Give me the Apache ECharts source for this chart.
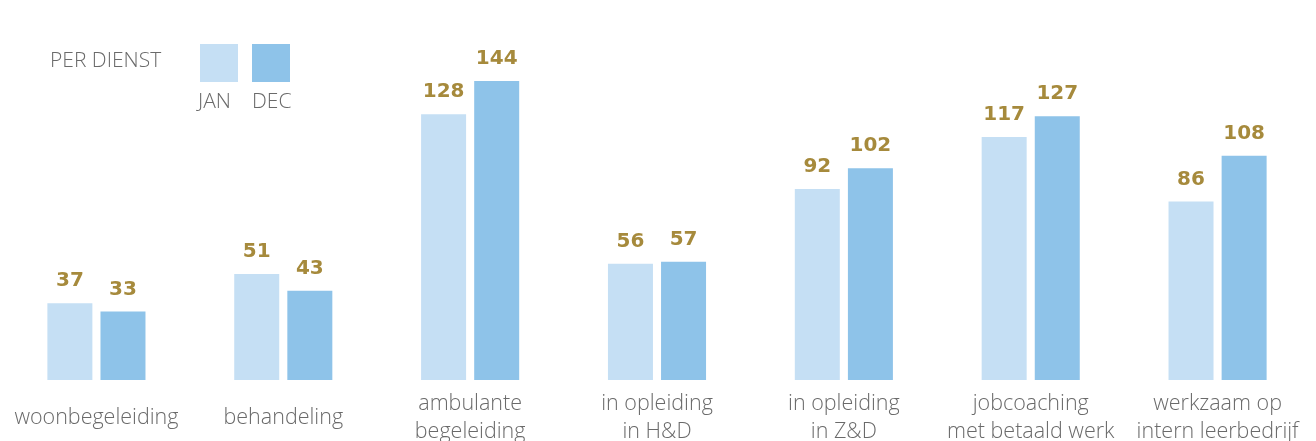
<!DOCTYPE html>
<html>
<head>
<meta charset="utf-8">
<script src="https://cdn.jsdelivr.net/npm/echarts@6/dist/echarts.min.js"></script>
<style>html,body{margin:0;padding:0;background:#fff}#c{width:1316px;height:441px}</style>
</head>
<body>
<div id="c"></div>
<script>
const categories = ['woonbegeleiding', 'behandeling', 'ambulante\nbegeleiding', 'in opleiding\nin H&D', 'in opleiding\nin Z&D', 'jobcoaching\nmet betaald werk', 'werkzaam op\nintern leerbedrijf'];
const seriesNames = ['JAN', 'DEC'];
const janValues = [37, 51, 128, 56, 92, 117, 86];
const decValues = [33, 43, 144, 57, 102, 127, 108];
const colors = ['#C5DFF4', '#8EC3E9'];
const labelColor = '#A68A3C';
const textColor = '#6a6a6a';
const font = '"Open Sans", Lato, sans-serif';

const chart = echarts.init(document.getElementById('c'));
const mkSeries = (name, data, color) => ({
  name, type: 'bar', data, barWidth: 45, barGap: '18%',
  itemStyle: { color },
  label: { show: true, position: 'top', distance: 12, color: labelColor, fontFamily: '"DejaVu Sans", sans-serif', fontWeight: 'bold', fontSize: 20 },
  silent: true
});
chart.setOption({
  animation: false,
  title: { text: 'PER DIENST', left: 45, top: 46, textStyle: { color: textColor, fontFamily: font, fontWeight: 300, fontSize: 21 } },
  grid: { left: 3, right: 5, top: 0, bottom: 61, containLabel: false, outerBoundsMode: 'none' },
  xAxis: {
    type: 'category', data: categories,
    axisLine: { show: false }, axisTick: { show: false },
    axisLabel: { margin: 38, verticalAlign: 'middle', lineHeight: 28, color: textColor, fontFamily: font, fontWeight: 300, fontSize: 21.5, interval: 0 }
  },
  yAxis: { type: 'value', min: 0, max: 183, show: false, splitLine: { show: false } },
  graphic: [
    { type: 'rect', left: 200, top: 44, shape: { width: 38, height: 38 }, style: { fill: colors[0] } },
    { type: 'rect', left: 252, top: 44, shape: { width: 38, height: 38 }, style: { fill: colors[1] } },
    { type: 'text', left: 198, top: 92, style: { text: seriesNames[0], fill: textColor, font: '300 21px ' + font } },
    { type: 'text', left: 252, top: 92, style: { text: seriesNames[1], fill: textColor, font: '300 21px ' + font } }
  ],
  series: [mkSeries(seriesNames[0], janValues, colors[0]), mkSeries(seriesNames[1], decValues, colors[1])]
});
</script>
</body>
</html>
